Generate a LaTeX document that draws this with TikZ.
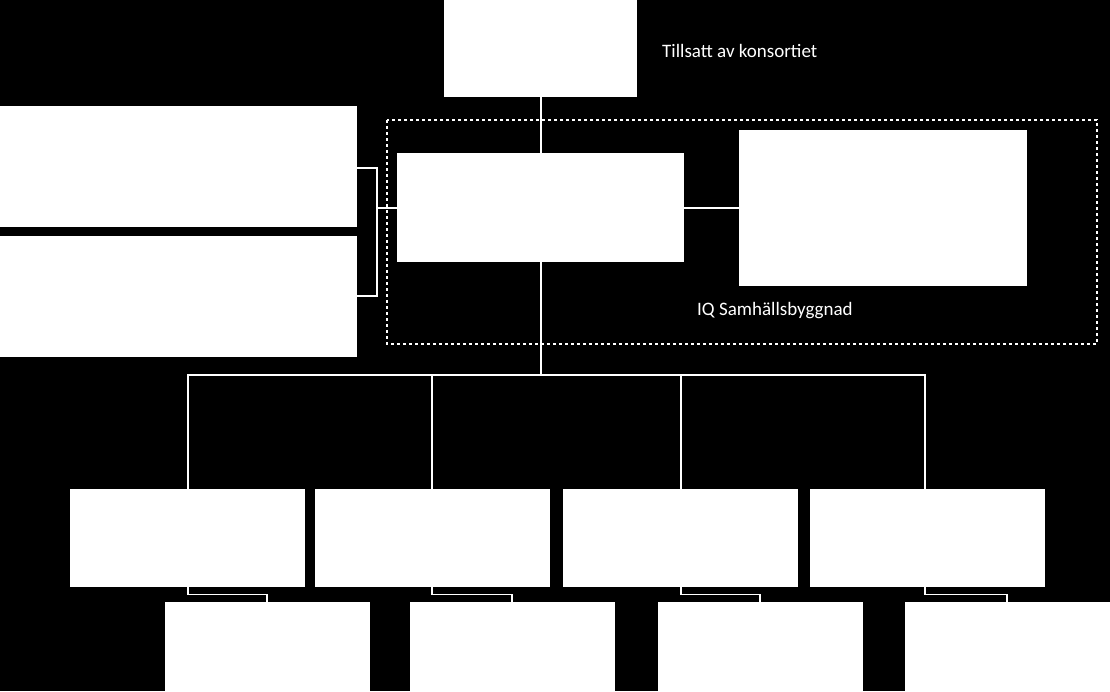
\documentclass[tikz,border=0pt]{standalone}
\usepackage{fontspec}
\setmainfont{Carlito}
\begin{document}
\begin{tikzpicture}[x=1pt,y=-1pt,
  wbox/.style={fill=white,draw=none},
  wline/.style={draw=white,line width=1.2pt},
  lbl/.style={text=white,font=\fontsize{19}{22}\selectfont,anchor=west,inner sep=0}]
\fill[black] (0,0) rectangle (1110,691);
\useasboundingbox (0,0) rectangle (1110,691);
\draw[white,dashed,line width=1.3pt] (387,120) rectangle (1097,344);
\fill[wbox] (444,0) rectangle (637,97); \coordinate (top) at (541,97);
\node[lbl] (t1) at (662,51) {Tillsatt av konsortiet};
\node[lbl] (t2) at (697,311) {IQ Samhällsbyggnad};
\fill[wbox] (0,106) rectangle (357,227);
\fill[wbox] (0,236) rectangle (357,357);
\fill[wbox] (397,153) rectangle (684,262);
\fill[wbox] (739,130) rectangle (1027,286);
\coordinate (ctop) at (541,153); \coordinate (cbot) at (541,262);
\coordinate (cl) at (397,208); \coordinate (cr) at (684,208); \coordinate (rl) at (739,208);
\draw[wline] (top) -- (ctop);
\draw[wline] (cr) -- (rl);
\draw[wline] (357,168) -- (377,168) -- (377,296) -- (357,296);
\draw[wline] (377,208) -- (cl);
\draw[wline] (cbot) -- (541,375);
\draw[wline] (188,489) -- (188,375) -- (925,375) -- (925,489);
\draw[wline] (432,375) -- (432,489);
\draw[wline] (681,375) -- (681,489);
\foreach \a/\b/\c in {70/188/165,315/432/410,563/681/658,810/925/905}{
  \draw[wline] (\b,587) -- (\b,594.5) -- (\c+102,594.5) -- (\c+102,602);
  \fill[wbox] (\a,489) rectangle (\a+235,587);
  \fill[wbox] (\c,602) rectangle (\c+205,691);
}
\end{tikzpicture}
\end{document}
